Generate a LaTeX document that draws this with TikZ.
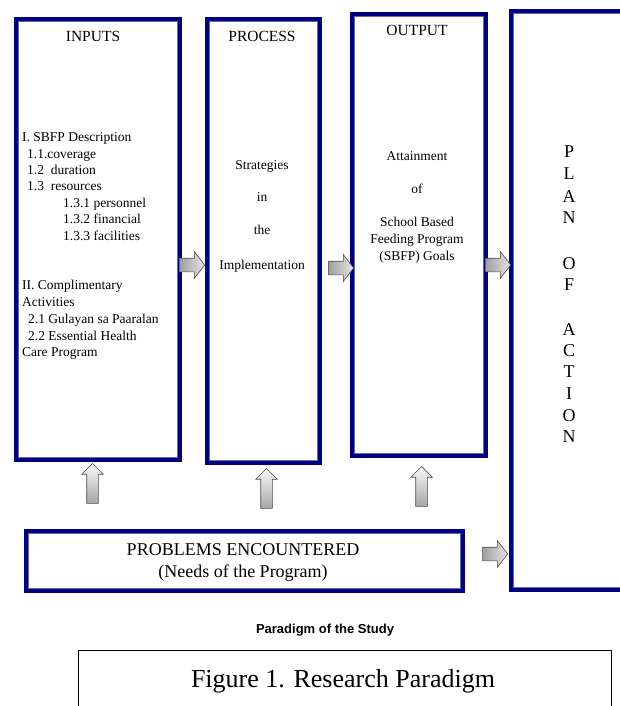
\documentclass[tikz,border=0pt]{standalone}
\usepackage{fontspec}
\setmainfont{Liberation Serif}
\newfontfamily\captionsans{Liberation Sans}
\usetikzlibrary{shapes.arrows}
\definecolor{navyblue}{RGB}{0,0,128}
\tikzset{
  panel/.style={draw=navyblue, line width=4, inner sep=0, anchor=north west},
  innerline/.style={draw=navyblue!60, line width=1},
  title/.style={font=\fontsize{15.5}{18}\selectfont, anchor=base, inner sep=0},
  body/.style={font=\fontsize{13.5}{16.5}\selectfont, anchor=base, inner sep=0},
  letter/.style={font=\fontsize{18}{21}\selectfont, anchor=base, inner sep=0},
  rarrow/.style={single arrow, draw=gray!60!black, line width=0.6,
    minimum height=25, minimum width=0, inner xsep=0, inner ysep=6.5,
    single arrow head extend=6.5, single arrow tip angle=105,
    left color=gray!75, right color=gray!20, anchor=tip},
  uparrow/.style={single arrow, draw=gray!60!black, line width=0.6,
    minimum height=40, minimum width=0, inner xsep=0, inner ysep=5.5,
    single arrow head extend=5, rotate=90,
    top color=gray!5, bottom color=gray!70, anchor=tip},
}

\begin{document}
\begin{tikzpicture}[x=1pt, y=-1pt]
  \useasboundingbox (0,0) rectangle (620,706);

  % frames
  \node[panel, minimum width=164, minimum height=441] (inputs)   at (14,17)  {};
  \node[panel, minimum width=113, minimum height=444] (process)  at (205,17) {};
  \node[panel, minimum width=134, minimum height=442] (output)   at (350,12) {};
  \node[panel, minimum width=141, minimum height=579] (plan)     at (509,9)  {};
  \node[panel, minimum width=437, minimum height=60]  (problems) at (24,529) {};
  \foreach \b in {inputs,process,output,plan,problems}
    \draw[innerline] ([shift={(4.5,4.5)}]\b.north west) rectangle ([shift={(-4.5,-4.5)}]\b.south east);

  % headings
  \node[title] (inputs-t)  at (93,41.5)  {INPUTS};
  \node[title] (process-t) at (262,41.5) {PROCESS};
  \node[title] (output-t)  at (417,36)   {OUTPUT};

  % inputs list
  \foreach \x/\y/\t in {22/141.5/{I. SBFP Description}, 27/158/{1.1.coverage},
      27/174.5/{1.2\ \ duration}, 27/190.5/{1.3\ \ resources},
      63/207/{1.3.1 personnel}, 63/223.5/{1.3.2 financial}, 63/240/{1.3.3 facilities},
      22/289.5/{II. Complimentary}, 22/306/{Activities},
      28/323.5/{2.1 Gulayan sa Paaralan}, 28/340/{2.2 Essential Health},
      22/356.5/{Care Program}}
    \node[body, anchor=base west] at (\x,\y) {\t};

  % process text
  \foreach \y/\t in {169/Strategies, 201/in, 234/the, 269/Implementation}
    \node[body] at (262,\y) {\t};

  % output text
  \foreach \y/\t in {160.5/Attainment, 193/of, 226.5/{School Based},
      243/{Feeding Program}, 260/{(SBFP) Goals}}
    \node[body] at (417,\y) {\t};

  % plan of action
  \foreach \y/\t in {157/P, 179/L, 202/A, 223/N, 269/O, 290/F,
      335/A, 356/C, 377/T, 399/I, 421/O, 442/N}
    \node[letter] at (569,\y) {\t};

  % problems
  \node[font=\fontsize{18}{21}\selectfont, anchor=base, inner sep=0] (prob-a) at (243,555) {PROBLEMS ENCOUNTERED};
  \node[font=\fontsize{18}{21}\selectfont, anchor=base, inner sep=0] (prob-b) at (243,577) {(Needs of the Program)};

  % block arrows
  \node[rarrow] (a1) at (process.west |- 0,265) {};
  \node[rarrow] (a2) at ([xshift=4]output.west |- 0,268) {};
  \node[rarrow] (a3) at ([xshift=2]plan.west |- 0,265) {};
  \node[rarrow] (a4) at ([xshift=-1]plan.west |- 0,554) {};
  \node[uparrow] (u1) at (92.5,463) {};
  \node[uparrow] (u2) at (266.5,468) {};
  \node[uparrow] (u3) at (421.5,466) {};

  % caption
  \node[font=\captionsans\bfseries\fontsize{13}{15}\selectfont, anchor=base, inner sep=0] (cap) at (325,633) {Paradigm of the Study};
  \node[draw, line width=1.5, inner sep=0, anchor=north west,
        minimum width=533, minimum height=70] (figbox) at (77.75,649.75) {};
  \node[font=\fontsize{26}{30}\selectfont, anchor=base, inner sep=0] (figtext) at (343,687) {Figure 1. Research Paradigm};
\end{tikzpicture}
\end{document}
